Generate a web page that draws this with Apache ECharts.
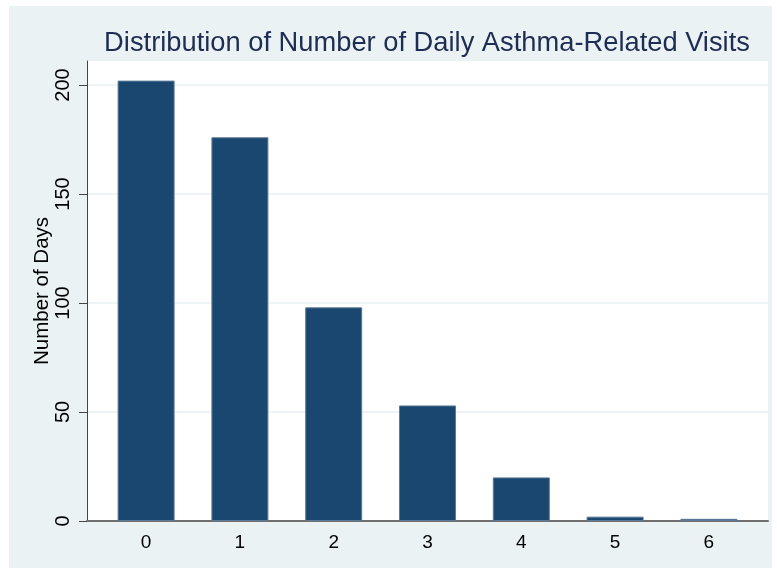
<!DOCTYPE html>
<html>
<head>
<meta charset="utf-8">
<script src="https://cdn.jsdelivr.net/npm/echarts@6/dist/echarts.min.js"></script>
<style>html,body{margin:0;padding:0;background:#fff;}#c{width:777px;height:569px;}</style>
</head>
<body>
<div id="c"></div>
<script>
var categories = [0, 1, 2, 3, 4, 5, 6];
var dayCounts = [202, 176, 98, 53, 20, 2, 1];
var yTicks = [0, 50, 100, 150, 200];
var titleText = 'Distribution of Number of Daily Asthma-Related Visits';
var yName = 'Number of Days';

var chart = echarts.init(document.getElementById('c'), null, {renderer: 'canvas'});
var seriesData = categories.map(function (c, i) { return [c, dayCounts[i]]; });
chart.setOption({
  backgroundColor: '#ffffff',
  animation: false,
  graphic: [{
    type: 'rect', z: -10, silent: true,
    shape: {x: 9, y: 6, width: 763, height: 562},
    style: {fill: '#EAF2F3'}
  }],
  title: {
    text: titleText,
    left: 422, top: 25, textAlign: 'center',
    textStyle: {fontFamily: 'Liberation Sans, Arial, sans-serif', fontSize: 27.3, fontWeight: 'normal', color: '#1E2D53'}
  },
  grid: {left: 87, top: 61, right: 9, bottom: 48, show: true, backgroundColor: '#ffffff', borderWidth: 0},
  xAxis: {
    type: 'value', min: -0.63, max: 6.63,
    axisLine: {show: true, onZero: false, lineStyle: {color: '#707070', width: 2}},
    axisTick: {show: false},
    splitLine: {show: false},
    axisLabel: {customValues: categories, margin: 12, fontSize: 19, color: '#000', fontFamily: 'Liberation Sans, Arial, sans-serif'}
  },
  yAxis: {
    type: 'value', min: 0, max: 211,
    name: yName, nameLocation: 'middle', nameGap: 34, nameRotate: 90, nameMoveOverlap: false,
    nameTextStyle: {fontSize: 20.5, color: '#000', fontFamily: 'Liberation Sans, Arial, sans-serif'},
    axisLine: {show: true, onZero: false, lineStyle: {color: '#444', width: 1}},
    axisTick: {show: true, customValues: yTicks, length: 8, lineStyle: {color: '#444', width: 1}},
    axisLabel: {customValues: yTicks, rotate: 90, margin: 14, fontSize: 20, color: '#000', fontFamily: 'Liberation Sans, Arial, sans-serif'},
    splitLine: {show: true, lineStyle: {color: '#EAF2F3', width: 1.5}}
  },
  series: [{
    type: 'bar',
    data: seriesData,
    barWidth: 57,
    itemStyle: {color: '#1A476F', borderColor: '#5A7A98', borderWidth: 1}
  }]
});
</script>
</body>
</html>
